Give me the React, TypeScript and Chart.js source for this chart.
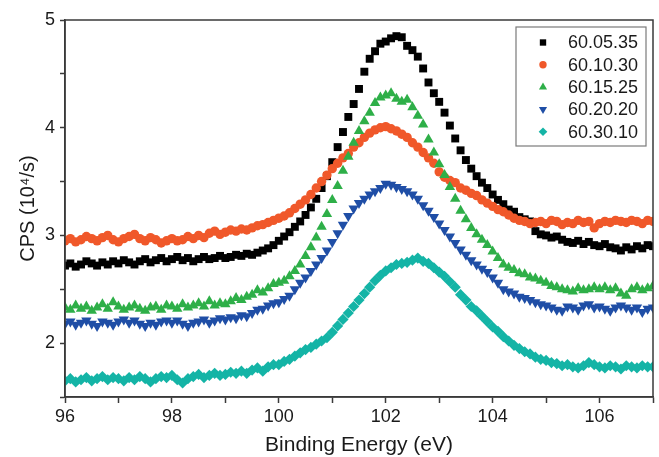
import { useEffect, useRef } from 'react';
import { Chart, registerables } from 'chart.js';
import { drawPoint } from 'chart.js/helpers';

Chart.register(...registerables);

const FONT = '"Liberation Sans", Arial, sans-serif';

const seriesNames = ['60.05.35', '60.10.30', '60.15.25', '60.20.20', '60.30.10'];
const seriesColors = ['#000000', '#f0582a', '#2eaf48', '#1f4ea6', '#14b4a6'];
const seriesStyles = ['rect', 'circle', 'triangle', 'triangle', 'rectRot'];
const seriesRotations = [0, 0, 0, 180, 0];
const seriesRadius = [5.6, 4.7, 6, 6, 5.6];
const legendRadius = [5, 4.2, 5.2, 5.2, 4.8];

// Binding energy grid (eV): 96.0 ... 107.0 in 0.1 eV steps
const energyStart = 96.0;
const energyStep = 0.1;

// CPS (10^4/s)
const s60_05_35 = [
  2.72, 2.74, 2.71, 2.73, 2.76, 2.74, 2.72, 2.75, 2.73, 2.76,
  2.74, 2.77, 2.75, 2.73, 2.76, 2.78, 2.75, 2.77, 2.79, 2.76,
  2.78, 2.80, 2.77, 2.79, 2.76, 2.78, 2.80, 2.78, 2.79, 2.81,
  2.79, 2.80, 2.82, 2.81, 2.83, 2.82, 2.84, 2.86, 2.88, 2.91,
  2.95, 2.99, 3.03, 3.08, 3.13, 3.19, 3.26, 3.34, 3.44, 3.55,
  3.68, 3.82, 3.96, 4.10, 4.22, 4.36, 4.52, 4.64, 4.71, 4.78,
  4.80, 4.83, 4.85, 4.84, 4.76, 4.72, 4.66, 4.55, 4.42, 4.32,
  4.24, 4.14, 4.02, 3.90, 3.79, 3.70, 3.62, 3.55, 3.49, 3.44,
  3.38, 3.33, 3.29, 3.24, 3.22, 3.17, 3.15, 3.13, 3.04, 3.01,
  3.00, 2.98, 2.99, 2.96, 2.94, 2.93, 2.95, 2.92, 2.94, 2.91,
  2.90, 2.92, 2.89, 2.88, 2.86, 2.89, 2.87, 2.90, 2.88, 2.91,
  2.90,
];
const s60_10_30 = [
  2.95, 2.97, 2.94, 2.96, 2.99, 2.97, 2.95, 2.98, 3.00, 2.96,
  2.94, 2.97, 2.99, 3.01, 2.97, 2.95, 2.98, 2.96, 2.93, 2.95,
  2.97, 2.95, 2.96, 2.99, 2.97, 3.00, 2.98, 3.02, 3.04, 3.01,
  3.03, 3.05, 3.04, 3.06, 3.05, 3.07, 3.09, 3.10, 3.12, 3.14,
  3.16, 3.18, 3.21, 3.25, 3.29, 3.33, 3.38, 3.44, 3.50, 3.56,
  3.62, 3.67, 3.72, 3.76, 3.82, 3.86, 3.91, 3.95, 3.98, 4.00,
  4.01, 3.99, 3.97, 3.94, 3.91, 3.86, 3.82, 3.77, 3.72, 3.67,
  3.59, 3.54, 3.51, 3.49, 3.44, 3.42, 3.39, 3.37, 3.33, 3.30,
  3.27, 3.24, 3.22, 3.19, 3.16, 3.14, 3.13, 3.11, 3.12, 3.13,
  3.11, 3.14, 3.13, 3.10, 3.12, 3.11, 3.14, 3.12, 3.13, 3.07,
  3.11, 3.13, 3.12, 3.14, 3.13, 3.12, 3.14, 3.13, 3.11, 3.14,
  3.13,
];
const s60_15_25 = [
  2.33, 2.31, 2.35, 2.32, 2.34, 2.30, 2.33, 2.36, 2.32, 2.38,
  2.34, 2.31, 2.33, 2.35, 2.32, 2.30, 2.33, 2.34, 2.31, 2.35,
  2.34, 2.32, 2.36, 2.33, 2.35, 2.37, 2.34, 2.39, 2.35, 2.37,
  2.36, 2.39, 2.42, 2.40, 2.43, 2.45, 2.49, 2.47, 2.51, 2.55,
  2.56, 2.58, 2.62, 2.67, 2.73, 2.81, 2.89, 2.98, 3.08, 3.20,
  3.33, 3.46, 3.60, 3.73, 3.86, 3.97, 4.06, 4.14, 4.23, 4.28,
  4.30, 4.32, 4.27, 4.24, 4.26, 4.19, 4.11, 4.03, 3.89, 3.77,
  3.66, 3.56, 3.45, 3.34, 3.23, 3.15, 3.07, 3.01, 2.96, 2.91,
  2.85, 2.79, 2.73, 2.70, 2.68, 2.65, 2.64, 2.61, 2.60, 2.58,
  2.56, 2.53, 2.52, 2.50, 2.49, 2.48, 2.51, 2.49, 2.50, 2.52,
  2.50, 2.52, 2.49, 2.51, 2.46, 2.44, 2.50, 2.52, 2.49, 2.51,
  2.53,
];
const s60_20_20 = [
  2.18, 2.20, 2.17, 2.19, 2.21, 2.18, 2.16, 2.20, 2.19, 2.17,
  2.20, 2.22, 2.19, 2.21, 2.18, 2.16, 2.19, 2.17, 2.20, 2.21,
  2.19, 2.21, 2.18, 2.16, 2.19, 2.20, 2.22, 2.19, 2.21, 2.23,
  2.22, 2.24, 2.23, 2.26, 2.25, 2.28, 2.31, 2.32, 2.35, 2.37,
  2.38, 2.41, 2.44, 2.50, 2.56, 2.61, 2.67, 2.73, 2.79, 2.86,
  2.94, 3.02, 3.10, 3.18, 3.25, 3.30, 3.34, 3.38, 3.41, 3.44,
  3.48, 3.47, 3.45, 3.43, 3.41, 3.38, 3.34, 3.28, 3.23, 3.17,
  3.11, 3.05, 2.99, 2.93, 2.87, 2.82, 2.77, 2.73, 2.69, 2.66,
  2.61, 2.56, 2.50, 2.48, 2.46, 2.43, 2.42, 2.40, 2.38, 2.36,
  2.35, 2.33, 2.31, 2.30, 2.34, 2.33, 2.31, 2.35, 2.36, 2.33,
  2.34, 2.32, 2.30, 2.33, 2.35, 2.33, 2.31, 2.33, 2.29, 2.32,
  2.33,
];
const s60_30_10 = [
  1.65, 1.67, 1.64, 1.66, 1.68, 1.65, 1.67, 1.69, 1.66, 1.68,
  1.67, 1.65, 1.68, 1.66, 1.69, 1.67, 1.64, 1.67, 1.69, 1.68,
  1.70, 1.66, 1.63, 1.67, 1.69, 1.71, 1.68, 1.70, 1.72, 1.70,
  1.71, 1.73, 1.72, 1.74, 1.72, 1.75, 1.77, 1.74, 1.78, 1.80,
  1.80, 1.83, 1.85, 1.88, 1.91, 1.94, 1.96, 1.99, 2.02, 2.05,
  2.10, 2.16, 2.22, 2.28, 2.34, 2.40, 2.46, 2.52, 2.58, 2.63,
  2.67, 2.70, 2.73, 2.74, 2.75, 2.77, 2.79, 2.76, 2.74, 2.70,
  2.66, 2.62, 2.57, 2.52, 2.45, 2.40, 2.34, 2.30, 2.25, 2.20,
  2.15, 2.11, 2.06, 2.02, 1.98, 1.95, 1.92, 1.90, 1.87, 1.85,
  1.84, 1.82, 1.81, 1.79, 1.80, 1.78, 1.77, 1.79, 1.82, 1.80,
  1.78, 1.77, 1.79, 1.78, 1.76, 1.79, 1.78, 1.77, 1.79, 1.78,
  1.78,
];

const seriesValues = [s60_05_35, s60_10_30, s60_15_25, s60_20_20, s60_30_10];

const xTickLabels = ['96', '98', '100', '102', '104', '106'];
const yTickLabels = ['2', '3', '4', '5'];

const framePlugin = {
  id: 'frame',
  afterDraw(chart: any) {
    const { ctx, chartArea } = chart;
    ctx.save();
    ctx.strokeStyle = '#3a3a3a';
    ctx.lineWidth = 1.5;
    ctx.strokeRect(chartArea.left, chartArea.top, chartArea.right - chartArea.left, chartArea.bottom - chartArea.top);
    ctx.restore();
  },
};

const legendPlugin = {
  id: 'boxLegend',
  afterDraw(chart: any) {
    const { ctx } = chart;
    const bx = 516, by = 27, bw = 130, bh = 119;
    ctx.save();
    ctx.fillStyle = '#ffffff';
    ctx.fillRect(bx, by, bw, bh);
    ctx.strokeStyle = '#7a7a7a';
    ctx.lineWidth = 1.2;
    ctx.strokeRect(bx, by, bw, bh);
    ctx.font = `18px ${FONT}`;
    ctx.textBaseline = 'middle';
    ctx.textAlign = 'left';
    seriesNames.forEach((name, i) => {
      const cy = by + 15.5 + i * 22.3;
      ctx.fillStyle = seriesColors[i];
      ctx.strokeStyle = seriesColors[i];
      ctx.lineWidth = 0;
      drawPoint(ctx, {
        pointStyle: seriesStyles[i],
        rotation: seriesRotations[i],
        radius: legendRadius[i] - 0.5,
        borderWidth: 0,
      } as any, 543, cy);
      ctx.fillStyle = '#1a1a1a';
      ctx.fillText(name, 568, cy + 1);
    });
    ctx.restore();
  },
};

export default function App() {
  const canvasRef = useRef<HTMLCanvasElement | null>(null);

  useEffect(() => {
    if (!canvasRef.current) return;
    const datasets = seriesNames.map((name, i) => ({
      label: name,
      data: seriesValues[i].map((v, j) => ({ x: energyStart + j * energyStep, y: v })),
      showLine: false,
      pointStyle: seriesStyles[i],
      pointRotation: seriesRotations[i],
      pointRadius: seriesRadius[i],
      pointBackgroundColor: seriesColors[i],
      pointBorderColor: seriesColors[i],
      pointBorderWidth: 0,
      backgroundColor: seriesColors[i],
      borderColor: seriesColors[i],
      order: seriesNames.length - i,
      clip: 0,
    }));

    const chart = new Chart(canvasRef.current, {
      type: 'scatter',
      data: { datasets },
      plugins: [framePlugin, legendPlugin],
      options: {
        animation: false,
        responsive: false,
        layout: { padding: { top: 20, right: 4, left: 0, bottom: 0 } },
        plugins: {
          legend: { display: false },
          tooltip: { enabled: false },
        },
        scales: {
          x: {
            type: 'linear',
            min: 96,
            max: 107,
            afterFit: (scale: any) => { scale.height = 60; },
            grid: {
              drawOnChartArea: false,
              drawTicks: true,
              tickLength: 6,
              tickColor: '#3a3a3a',
              tickWidth: 1.5,
            },
            border: { display: true, color: '#3a3a3a', width: 1.5 },
            ticks: {
              stepSize: 1,
              autoSkip: false,
              maxRotation: 0,
              padding: 3,
              color: '#1a1a1a',
              font: { family: FONT, size: 18 },
              callback: (v: any) => {
                const s = String(Math.round(Number(v)));
                return xTickLabels.includes(s) && Math.abs(Number(v) - Math.round(Number(v))) < 1e-6 ? s : '';
              },
            },
            title: {
              display: true,
              text: 'Binding Energy (eV)',
              color: '#1a1a1a',
              font: { family: FONT, size: 21 },
              padding: { top: 0, bottom: -1 },
            },
          },
          y: {
            type: 'linear',
            min: 1.5,
            max: 5,
            afterFit: (scale: any) => { scale.width = 65; },
            grid: {
              drawOnChartArea: false,
              drawTicks: true,
              tickLength: 5,
              tickColor: '#3a3a3a',
              tickWidth: 1.5,
            },
            border: { display: true, color: '#3a3a3a', width: 1.5 },
            ticks: {
              stepSize: 0.5,
              autoSkip: false,
              padding: 5,
              color: '#1a1a1a',
              font: { family: FONT, size: 18 },
              callback: (v: any) => {
                const n = Number(v);
                const s = String(Math.round(n));
                return Math.abs(n - Math.round(n)) < 1e-6 && yTickLabels.includes(s) ? s : '';
              },
            },
            title: {
              display: true,
              text: 'CPS (10⁴/s)',
              color: '#1a1a1a',
              font: { family: FONT, size: 20 },
              padding: { top: 16, bottom: 0 },
            },
          },
        },
      },
    });
    return () => chart.destroy();
  }, []);

  return (
    <div style={{ position: 'absolute', left: 0, top: 0, width: 659, height: 457, background: '#ffffff' }}>
      <canvas ref={canvasRef} width={659} height={457} />
    </div>
  );
}
